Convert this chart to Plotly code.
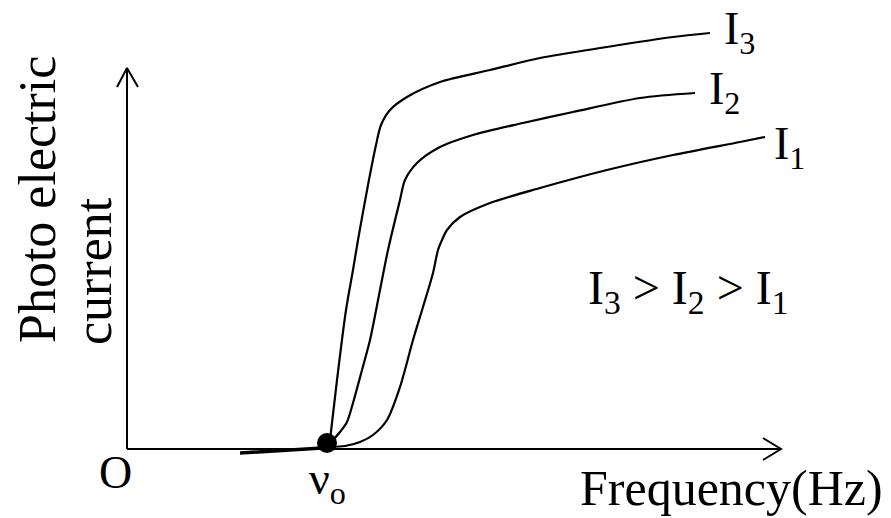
import plotly.graph_objects as go

# Frequency / current readings, origin O at the axes corner (arbitrary units)
nu0_x, nu0_y = 200, 6

i3_freq = [203, 210, 219, 226, 231, 241, 249, 254, 263, 280, 313, 363, 413, 480, 546, 583]
i3_curr = [9, 69, 139, 179, 209, 264, 304, 324, 339, 352, 367, 379, 391, 402, 412, 416]

i2_freq = [206, 213, 220, 226, 235, 243, 253, 261, 273, 278, 290, 313, 346, 396, 446, 513, 568]
i2_curr = [9, 17, 27, 46, 79, 109, 159, 199, 249, 269, 286, 302, 314, 326, 337, 351, 356]

i1_freq = [203, 218, 233, 246, 260, 273, 286, 296, 306, 311, 315, 320, 333, 363, 413, 480, 546, 613, 638]
i1_curr = [2, 3, 7, 14, 29, 62, 109, 142, 176, 199, 209, 219, 232, 246, 261, 279, 294, 307, 312]

# short thick stroke drawn under the axis, left of the threshold point
base_freq = [113, 195]
base_curr = [-4, 1]

FONT = "Liberation Serif"
INK = "black"

fig = go.Figure()

# axes with open arrow heads
fig.add_trace(go.Scatter(x=[0, 654], y=[0, 0], mode="lines", line=dict(color=INK, width=2)))
fig.add_trace(go.Scatter(x=[636, 654, 636], y=[11, 0, -11], mode="lines", line=dict(color=INK, width=2)))
fig.add_trace(go.Scatter(x=[0, 0], y=[0, 381], mode="lines", line=dict(color=INK, width=2)))
fig.add_trace(go.Scatter(x=[-10, 0, 11], y=[362, 381, 362], mode="lines", line=dict(color=INK, width=2)))

fig.add_trace(go.Scatter(x=base_freq, y=base_curr, mode="lines", line=dict(color=INK, width=3.5)))

# the three intensity curves
for fx, cy in [(i3_freq, i3_curr), (i2_freq, i2_curr), (i1_freq, i1_curr)]:
    fig.add_trace(go.Scatter(x=fx, y=cy, mode="lines",
                             line=dict(color=INK, width=2.2, shape="spline", smoothing=0.8)))

# threshold frequency dot
fig.add_trace(go.Scatter(x=[nu0_x], y=[nu0_y], mode="markers",
                         marker=dict(color=INK, size=20)))

def label(text, x, y, size, xanchor="center", yanchor="middle", angle=0):
    fig.add_annotation(text=text, x=x, y=y, xref="x", yref="y", showarrow=False,
                       xanchor=xanchor, yanchor=yanchor, textangle=angle,
                       font=dict(family=FONT, size=size, color=INK))

label("I<sub>3</sub>", 595, 417, 46, xanchor="left")
label("I<sub>2</sub>", 580, 357, 46, xanchor="left")
label("I<sub>1</sub>", 645, 302, 46, xanchor="left")
label("I<sub>3</sub>&nbsp;&gt;&nbsp;I<sub>2</sub>&nbsp;&gt;&nbsp;I<sub>1</sub>", 561, 158, 48)
label("O", -12, -23, 46)
label("ν<sub>o</sub>", 200, -33, 46)
label("Frequency(Hz)", 604, -39, 50)
label("Photo electric", -90, 249, 52, angle=-90)
label("current", -34, 178, 52, angle=-90)

fig.update_layout(
    width=891, height=518,
    margin=dict(l=0, r=0, t=0, b=0),
    plot_bgcolor="white", paper_bgcolor="white",
    showlegend=False,
    xaxis=dict(range=[-127, 764], visible=False),
    yaxis=dict(range=[-69, 449], visible=False),
    font=dict(family=FONT, color=INK),
)

fig.write_html("out.html", config={"displayModeBar": False},
               post_script="document.body.style.margin='0px';")
